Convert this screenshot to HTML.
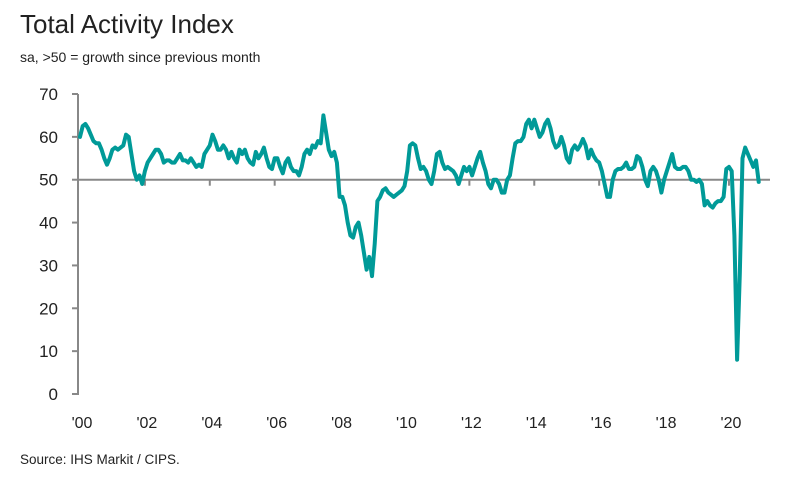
<!DOCTYPE html>
<html><head><meta charset="utf-8"><style>
body{margin:0;background:#fff;font-family:"Liberation Sans",sans-serif;}
svg text{font-family:"Liberation Sans",sans-serif;fill:#222;}
</style></head><body>
<svg id="chart" width="789" height="478">
<text x="20" y="33" font-size="26">Total Activity Index</text>
<text x="20" y="62" font-size="14">sa, &gt;50 = growth since previous month</text>
<text x="20" y="464" font-size="13.5">Source: IHS Markit / CIPS.</text>
<g id="axes"></g>
<path id="line" fill="none" stroke="#009A98" stroke-width="4" stroke-linejoin="round" stroke-linecap="round"></path>
</svg>
<script>
const yTicks=[0,10,20,30,40,50,60,70];
const xTickLabels=["'00","'02","'04","'06","'08","'10","'12","'14","'16","'18","'20"];
const startYear=2000;
const values2000=[60,62.5,63,62,60.5,59,58.5,58.5,57,55,53.5,55];
const values2001=[57,57.5,57,57.5,58,60.5,60,56,52,50,51,49];
const values2002=[52,54,55,56,57,57,56,54,54.5,54.5,54,54];
const values2003=[55,56,54.5,54.5,54,55,54,53,53.5,53,56,57];
const values2004=[58,60.5,59,57,57,58,57,55,56.5,55,54,57];
const values2005=[56,57,55,54,53.5,56.5,55,56,57.5,55,53,52.5];
const values2006=[55,55,53,51.5,54,55,53,52,52,51,53,56];
const values2007=[57,56,58,57.5,59,58.5,65,61,57,55.5,56.5,54];
const values2008=[46,46,44,40,37,36.5,39,40,37,33,29,32];
const values2009=[27.5,35,45,46,47.5,48,47,46.5,46,46.5,47,47.5];
const values2010=[48.5,52,58,58.5,58,55,52.5,53,52,50,49,52];
const values2011=[56,56.5,54,52.5,53,52.5,52,51,49,51,53,52];
const values2012=[53,51,53,55,56.5,54,52,49,48,50,50,49];
const values2013=[47,47,50,51,55,58.5,59,59,60,63,64,62];
const values2014=[64,62,60,61,63,64,62,59,57.5,58,60,58];
const values2015=[55,54,57,58,57,58,59.5,58,55,57,55.5,54.5];
const values2016=[54,52,49,46,46,50,52,52.5,52.5,53,54,52.5];
const values2017=[52.5,53,55.5,55,53,50,48.5,52,53,52,50,47];
const values2018=[50,52,54,56,53,52.5,52.5,53,53,52,50,50];
const values2019=[49.5,50,49,44,45,44,43.5,44.5,45,45,46,52.5];
const values2020=[53,52,37,8,28,55,57.5,56,54.5,53,54.5,49.5];
const series=[].concat(values2000,values2001,values2002,values2003,values2004,values2005,values2006,values2007,values2008,values2009,values2010,values2011,values2012,values2013,values2014,values2015,values2016,values2017,values2018,values2019,values2020);

const x0=80,mw=2.704,yBase=394,yPer=300/70;
function xS(i){return x0+i*mw;}
function yS(v){return yBase-v*yPer;}
const NS="http://www.w3.org/2000/svg";
const g=document.getElementById('axes');
function mk(tag,attrs){const e=document.createElementNS(NS,tag);for(const k in attrs)e.setAttribute(k,attrs[k]);g.appendChild(e);return e;}
let e=mk('line',{x1:78,x2:78,y1:yS(70),y2:yS(0)+1,stroke:'#888','stroke-width':2});


e=mk('line',{x1:78,x2:770,y1:yS(50),y2:yS(50),stroke:'#888','stroke-width':2});


yTicks.forEach(v=>{
  const l=mk('line',{x1:72,x2:78,y1:yS(v),y2:yS(v),stroke:'#888','stroke-width':2});
  
  
  const t=mk('text',{x:58,y:yS(v)+6,'text-anchor':'end','font-size':17});
  t.textContent=v;
  
  
});
xTickLabels.forEach((lab,k)=>{
  const x=xS(k*24);
  if(k>0){const l=mk('line',{x1:x,x2:x,y1:yS(50),y2:yS(50)+6,stroke:'#888','stroke-width':2});
  
  }
  const t=mk('text',{x:x+2,y:428,'text-anchor':'middle','font-size':16});
  t.textContent=lab;
  
  
});
document.getElementById('line').setAttribute('d',series.map((v,i)=>(i?'L':'M')+xS(i).toFixed(1)+','+yS(v).toFixed(1)).join(''));
</script>
</body></html>
